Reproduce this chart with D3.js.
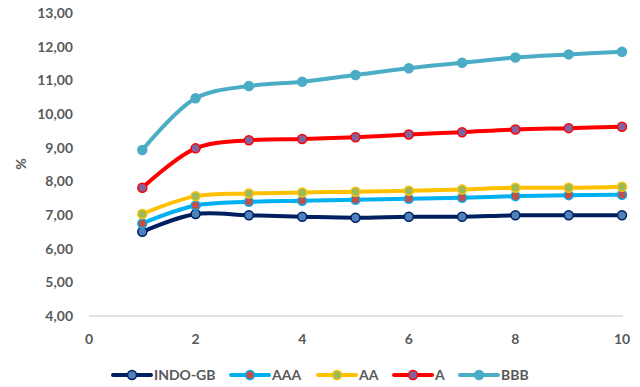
<!DOCTYPE html>
<html><head><meta charset="utf-8">
<script src="https://cdn.jsdelivr.net/npm/d3@7"></script>
<style>body{margin:0;background:#fff}svg{display:block}</style>
</head><body>
<svg id="c" width="640" height="387"></svg>
<script>
const tenors = [1,2,3,4,5,6,7,8,9,10];
const indoGB = [6.50,7.03,6.99,6.95,6.92,6.95,6.95,6.99,6.99,6.99];
const aaa    = [6.75,7.28,7.39,7.42,7.45,7.48,7.51,7.56,7.59,7.60];
const aa     = [7.03,7.56,7.64,7.67,7.69,7.72,7.76,7.81,7.81,7.84];
const a      = [7.81,8.98,9.22,9.26,9.31,9.39,9.46,9.54,9.58,9.62];
const bbb    = [8.93,10.47,10.83,10.96,11.16,11.36,11.52,11.68,11.77,11.85];
const seriesNames = ["INDO-GB","AAA","AA","A","BBB"];
const xTicks = [0,2,4,6,8,10];
const yTicks = [4,5,6,7,8,9,10,11,12,13];

const styles = {
  "INDO-GB": {line:"#002060", fill:"#4F81BD", stroke:"#002060"},
  "AAA": {line:"#00B0F0", fill:"#C0504D", stroke:"#00B0F0"},
  "AA": {line:"#FFC000", fill:"#9BBB59", stroke:"#FFC000"},
  "A": {line:"#FF0000", fill:"#8064A2", stroke:"#FF0000"},
  "BBB": {line:"#4BACC6", fill:"#4BACC6", stroke:"#4BACC6"}
};
const data = [indoGB, aaa, aa, a, bbb];
const svg = d3.select("#c");
const font = "Lato, 'Open Sans', sans-serif";
const x = d3.scaleLinear().domain([0,10]).range([89,622]);
const y = d3.scaleLinear().domain([4,13]).range([316,13]);

// bottom axis line
svg.append("line").attr("x1",89).attr("x2",623).attr("y1",y(4)).attr("y2",y(4))
  .attr("stroke","#d9d9d9").attr("stroke-width",1.3);

const tc = "#595959";
svg.append("g").selectAll("text").data(yTicks).join("text")
  .attr("x",73).attr("y",d=>y(d)).attr("dy","0.35em").attr("text-anchor","end")
  .attr("font-family",font).attr("font-weight","bold").attr("font-size",14).attr("fill",tc)
  .text(d=>d.toFixed(2).replace(".",","));
svg.append("g").selectAll("text").data(xTicks).join("text")
  .attr("x",d=>x(d)).attr("y",339).attr("dy","0.35em").attr("text-anchor","middle")
  .attr("font-family",font).attr("font-weight","bold").attr("font-size",14).attr("fill",tc)
  .text(d=>d);
svg.append("text").attr("transform","translate(21,164) rotate(-90)").attr("text-anchor","middle")
  .attr("dy","0.35em").attr("font-family",font).attr("font-weight","bold").attr("font-size",14).attr("fill",tc).text("%");

const line = d3.line().x((d,i)=>x(tenors[i])).y(d=>y(d)).curve(d3.curveCatmullRom.alpha(0.5));
seriesNames.forEach((name,k)=>{
  const st = styles[name];
  const g = svg.append("g");
  g.append("path").attr("d",line(data[k])).attr("fill","none").attr("stroke",st.line)
    .attr("stroke-width",4).attr("stroke-linejoin","round").attr("stroke-linecap","round");
  g.selectAll("circle").data(data[k]).join("circle")
    .attr("cx",(d,i)=>x(tenors[i])).attr("cy",d=>y(d)).attr("r",4.5)
    .attr("fill",st.fill).attr("stroke",st.stroke).attr("stroke-width",1.5);
});

// legend
const legX = [113,231,318,394,460];
const ly = 375;
seriesNames.forEach((name,k)=>{
  const st = styles[name];
  const g = svg.append("g").attr("transform",`translate(${legX[k]},${ly})`);
  g.append("line").attr("x1",0).attr("x2",38).attr("stroke",st.line).attr("stroke-width",4).attr("stroke-linecap","round");
  g.append("circle").attr("cx",19).attr("r",4.5).attr("fill",st.fill).attr("stroke",st.stroke).attr("stroke-width",1.5);
  g.append("text").attr("x",41).attr("dy","0.35em").attr("font-family",font).attr("font-weight","bold")
    .attr("font-size",14).attr("fill",tc).text(name);
});
</script>
</body></html>
